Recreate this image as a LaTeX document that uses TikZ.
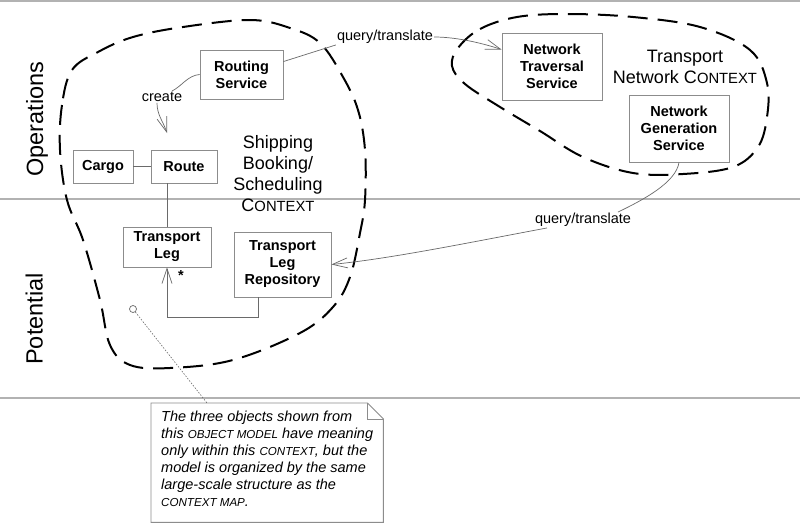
\documentclass[tikz,border=0pt]{standalone}
\usepackage{fontspec}
\setmainfont{Liberation Sans}
\usetikzlibrary{arrows.meta,calc}

\definecolor{boxgray}{HTML}{8C8C8C}
\definecolor{linegray}{HTML}{6A6A6A}
\definecolor{rulegray}{HTML}{B2B2B2}

\newcommand{\ctxsc}[1]{{\fontsize{14.8}{21}\selectfont #1}}
\newcommand{\notesc}[1]{{\fontsize{11.6}{17}\selectfont #1}}

\begin{document}
\begin{tikzpicture}[x=1pt,y=-1pt,
  obj/.style={draw=boxgray, line width=0.9pt, fill=white, font=\fontsize{14.5}{17}\selectfont\bfseries, align=center, inner sep=0pt},
  conn/.style={draw=linegray, line width=0.7pt},
  barb/.style={-{Straight Barb[length=15pt,width=10pt,line width=0.7pt]}},
  lbl/.style={font=\fontsize{14.5}{17}\selectfont, inner sep=1pt},
  ctx/.style={font=\fontsize{18}{21}\selectfont, align=center, inner sep=0pt, anchor=north},
  blob/.style={draw=black, line width=2pt, dash pattern=on 20pt off 10pt},
  lane/.style={font=\fontsize{23.5}{28}\selectfont, rotate=90, anchor=base, inner sep=0pt},
  rulel/.style={draw=rulegray, line width=1.3pt},
  notebox/.style={draw=boxgray, line width=0.9pt},
  notetext/.style={font=\fontsize{14.5}{17}\selectfont\itshape, align=left, inner sep=0pt, anchor=north west}]

\useasboundingbox (0,0) rectangle (800,525);
\fill[white] (0,0) rectangle (800,525);

% swimlane rules
\draw[rulel] (0,1) -- (800,1);
\draw[rulel] (0,199) -- (800,199);
\draw[rulel] (0,398) -- (800,398);

% lane labels
\node[lane] (ops) at (43,119) {Operations};
\node[lane] (pot) at (42.5,319) {Potential};

% bounded context outlines
\draw[blob] plot[smooth cycle, tension=0.6] coordinates {
  (72,70) (62,105) (60,150) (67,200) (83,240) (100,300) (110,345) (130,365)
  (170,368) (233,360) (300,333) (333,307) (350,277) (360,233) (365,200)
  (365,150) (358,110) (343,77) (320,43) (290,28) (250,20) (183,27) (133,37) (98,52)};
\draw[blob] plot[smooth cycle, tension=0.6] coordinates {
  (458,48) (480,29) (517,17) (567,14) (633,17) (700,27) (750,50) (767,83)
  (767,117) (758,147) (733,167) (683,174) (633,173) (583,157) (540,131)
  (500,107) (465,84) (452,66)};

% context labels
\node[ctx] (ctxship) at (278,135) {Shipping\\Booking/\\Scheduling\\C\ctxsc{ONTEXT}};
\node[ctx] (ctxnet) at (685,50) {Transport\\Network C\ctxsc{ONTEXT}};

% objects
\node[obj, minimum width=83pt, minimum height=49pt] (rs) at (241.5,74.5) {Routing\\Service};
\node[obj, minimum width=60pt, minimum height=33pt] (cargo) at (103,166.5) {Cargo};
\node[obj, minimum width=66pt, minimum height=33pt] (route) at (184,166.5) {Route};
\node[obj, minimum width=88pt, minimum height=40pt] (tl) at (167,247) {Transport\\Leg};
\node[obj, minimum width=97pt, minimum height=65pt] (tlr) at (282.5,264.5) {Transport\\Leg\\Repository};
\node[obj, minimum width=100pt, minimum height=67pt] (nts) at (552,66.5) {Network\\Traversal\\Service};
\node[obj, minimum width=100pt, minimum height=67pt] (ngs) at (679,128.5) {Network\\Generation\\Service};

% associations
\draw[conn] (cargo.east) -- (route.west);
\draw[conn] (tl.north) -- (tl.north |- route.south);
\draw[conn, barb] ([xshift=-24.5pt]tlr.south) -- ++(0,20) -| (tl.south);
\node[font=\fontsize{14.5}{17}\selectfont\bfseries, inner sep=0pt] (star) at (181,276) {*};

% create
\node[lbl] (create) at (162,97) {create};
\coordinate (ctip) at (167,133);
\draw[conn] (rs.west) .. controls +(-12,1) and +(10,-5) .. ([xshift=10pt]create.north);
\draw[conn, barb] ([xshift=-5pt]create.south) .. controls +(0,12) and +(-4,-12) .. (ctip);

% query/translate (top)
\node[lbl] (q1) at (385,37) {query/translate};
\draw[conn] ($(rs.north east)+(0,12)$) -- (q1.south west);
\draw[conn, barb] (q1.east) .. controls +(25,0) and +(-15,-5) .. ($(nts.north west)+(0,17)$);

% query/translate (bottom)
\node[lbl] (q2) at (583,220) {query/translate};
\draw[conn] (ngs.south) .. controls +(-3,20) and +(25,-12) .. ([xshift=35pt]q2.north);
\draw[conn, barb] ([xshift=-36pt]q2.south) .. controls +(-80,15) and +(60,-6) .. (tlr.east);

% note
\node[minimum width=232pt, minimum height=119pt, inner sep=0pt, anchor=north west] (note) at (151,403) {};
\draw[notebox] (note.north west) -- ($(note.north east)+(-16,0)$) -- ($(note.north east)+(0,16)$)
  -- (note.south east) -- (note.south west) -- cycle;
\draw[notebox] ($(note.north east)+(-16,0)$) -- ($(note.north east)+(-16,16)$) -- ($(note.north east)+(0,16)$);
\node[notetext] (notetxt) at (161,411) {The three objects shown from\\this \notesc{OBJECT MODEL} have meaning\\only within this \notesc{CONTEXT}, but the\\model is organized by the same\\large-scale structure as the\\\notesc{CONTEXT MAP}.};

% anchor circle and note link
\node[circle, draw=linegray, line width=0.7pt, minimum size=7pt, inner sep=0pt] (anc) at (133,309) {};
\draw[draw=linegray, line width=0.6pt, dash pattern=on 1.5pt off 1.5pt] (anc) -- ($(note.north west)+(56,0)$);

\end{tikzpicture}
\end{document}
